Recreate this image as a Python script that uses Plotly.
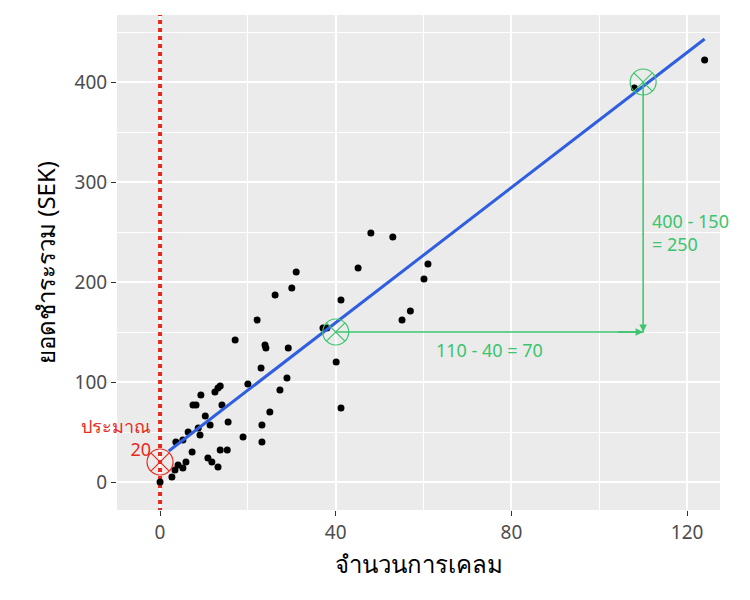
import plotly.graph_objects as go

claims = [0,2.7,3.4,4.1,5.2,5.9,3.6,5.2,6.4,7.3,7.5,8.2,8.7,9.1,9.3,10.3,11.4,10.9,11.8,12.5,13.2,13.7,14.1,13.2,13.7,15.3,15.5,17.1,18.9,20,22.1,23,23.2,23.2,23.9,24.1,25,26.2,27.3,28.9,29.2,30,31,37.1,38,40.1,41.2,41.2,45.1,48,53,55.1,57,60.1,61,108,124]
payment = [0,5,12,17,14,20,40,42,50,30,77,77,54,47,87,66,57,24,20,90,94,96,77,15,32,32,60,142,45,98,162,114,40,57,137,134,70,187,92,104,134,194,210,154,154,120,182,74,214,249,245,162,171,203,218,394,422]
fit_x = [2, 124]
fit_y = [31, 443]

red = "#e8291c"
green = "#3cc46e"
fig = go.Figure()
fig.add_trace(go.Scatter(x=[0, 0], y=[-30, 470], mode="lines", line=dict(color=red, width=4, dash="dot"), hoverinfo="skip"))
fig.add_trace(go.Scatter(x=claims, y=payment, mode="markers", marker=dict(color="black", size=7)))
fig.add_trace(go.Scatter(x=fit_x, y=fit_y, mode="lines", line=dict(color="#2f5fe0", width=3)))
fig.add_trace(go.Scatter(x=[0], y=[20], mode="markers", marker=dict(symbol="circle-x-open", size=26, color=red, line=dict(width=1.2))))
fig.add_trace(go.Scatter(x=[40, 110], y=[150, 400], mode="markers", marker=dict(symbol="circle-x-open", size=26, color=green, line=dict(width=1.2))))
fig.add_trace(go.Scatter(x=[40, 110, 110], y=[150, 150, 400], mode="lines", line=dict(color=green, width=1.5)))

fig.add_annotation(x=110, y=150, ax=104, ay=150, axref="x", ayref="y", showarrow=True, arrowhead=2, arrowcolor=green, arrowwidth=1.5, text="")
fig.add_annotation(x=110, y=150, ax=110, ay=158, axref="x", ayref="y", showarrow=True, arrowhead=2, arrowcolor=green, arrowwidth=1.5, text="")
fig.add_annotation(x=75, y=132, text="110 - 40 = 70", showarrow=False, font=dict(color=green, size=18))
fig.add_annotation(x=111.5, y=250, text="400 - 150<br>= 250", showarrow=False, xanchor="left", align="left", font=dict(color=green, size=18))
fig.add_annotation(x=-1.5, y=45, text="ประมาณ<br>20", showarrow=False, xanchor="right", align="right", font=dict(color=red, size=18))

fig.update_layout(
    width=750, height=600, showlegend=False,
    paper_bgcolor="white", plot_bgcolor="#ebebeb",
    margin=dict(l=109, r=38, t=7, b=98),
    font=dict(family="Noto Sans, DejaVu Sans", size=19, color="#4d4d4d"),
)
fig.update_xaxes(range=[-9.8, 127.5], tickvals=[0, 40, 80, 120], gridcolor="white", gridwidth=1.8, automargin=False,
                 minor=dict(tickvals=[20, 60, 100], gridcolor="white", gridwidth=0.8), zeroline=False,
                 ticks="outside", ticklen=5, tickcolor="#333", title=dict(text="จำนวนการเคลม", font=dict(size=24, color="black"), standoff=12))
fig.update_yaxes(range=[-28, 467], tickvals=[0, 100, 200, 300, 400], gridcolor="white", gridwidth=1.8, automargin=False,
                 minor=dict(tickvals=[50, 150, 250, 350, 450], gridcolor="white", gridwidth=0.8), zeroline=False,
                 ticks="outside", ticklen=5, tickcolor="#333", title=dict(text="ยอดชำระรวม (SEK)", font=dict(size=24, color="black"), standoff=12))
fig.write_html("out.html")
